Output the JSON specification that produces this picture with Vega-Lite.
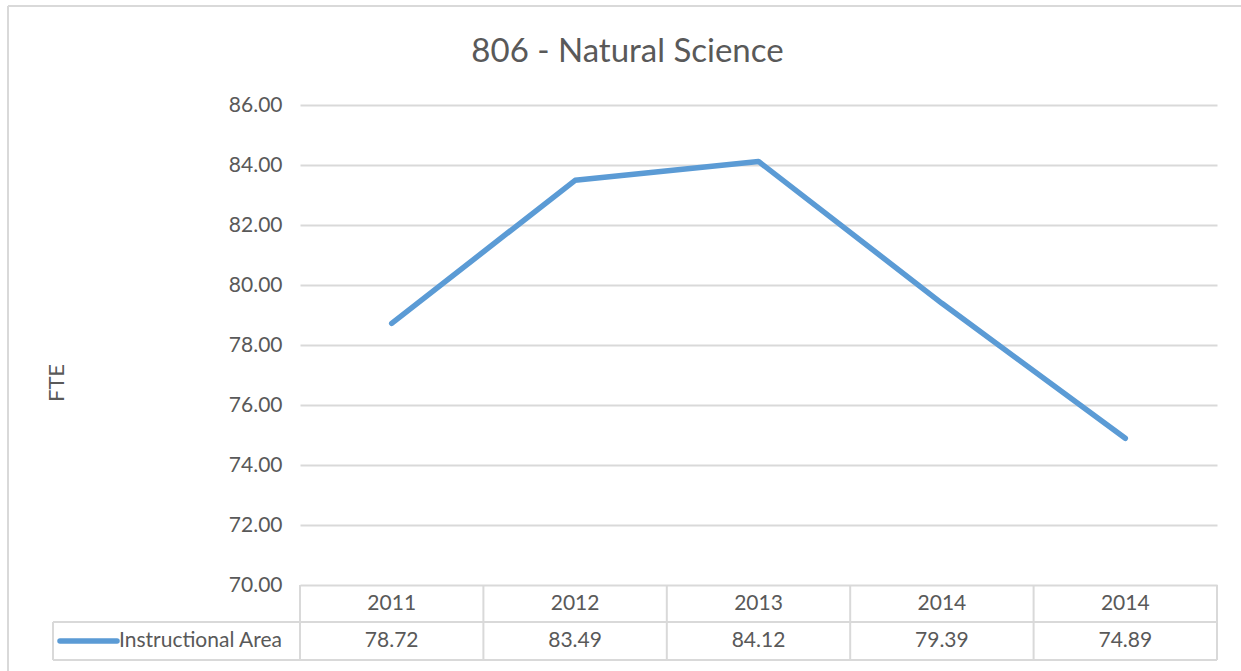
{
  "$schema": "https://vega.github.io/schema/vega-lite/v6.json",
  "autosize": {"type": "none"},
  "padding": {"left": 300, "top": 105, "right": 24, "bottom": 11},
  "width": 917,
  "height": 555,
  "background": "white",
  "config": {"view": {"stroke": null}, "font": "Lato", "axisX": {"disable": true}},
  "title": {"text": "806 - Natural Science", "fontSize": 33, "fontWeight": "normal", "color": "#595959", "font": "Lato", "anchor": "middle", "dx": -131, "offset": -64},
  "data": {"values": [
    {"col": 0, "year": "2011", "series": "Instructional Area", "fte": 78.72},
    {"col": 1, "year": "2012", "series": "Instructional Area", "fte": 83.49},
    {"col": 2, "year": "2013", "series": "Instructional Area", "fte": 84.12},
    {"col": 3, "year": "2014", "series": "Instructional Area", "fte": 79.39},
    {"col": 4, "year": "2014", "series": "Instructional Area", "fte": 74.89}
  ]},
  "layer": [
    {
      "mark": {"type": "line", "color": "#5B9BD5", "strokeWidth": 5.5, "strokeCap": "round", "strokeJoin": "round"},
      "encoding": {
        "x": {"field": "col", "type": "quantitative", "scale": {"domain": [-0.5, 4.5], "nice": false, "zero": false}, "axis": null},
        "y": {"field": "fte", "type": "quantitative", "scale": {"domain": [67.5, 86], "nice": false, "zero": false},
          "axis": {"values": [70, 72, 74, 76, 78, 80, 82, 84, 86], "format": ".2f", "grid": true, "gridColor": "#D9D9D9", "gridWidth": 2, "domain": false, "ticks": false, "labelPadding": 18, "labelFontSize": 21, "labelColor": "#595959", "labelFont": "Lato", "title": "FTE", "titleFontSize": 22, "titleFontWeight": "normal", "titleColor": "#595959", "titleFont": "Lato", "titlePadding": 160}}
      }
    },
    {
      "mark": {"type": "text", "fontSize": 21, "color": "#595959", "baseline": "middle", "align": "center"},
      "encoding": {
        "x": {"field": "col", "type": "quantitative"},
        "y": {"datum": 69.383, "type": "quantitative"},
        "text": {"field": "year"}
      }
    },
    {
      "mark": {"type": "text", "fontSize": 21, "color": "#595959", "baseline": "middle", "align": "center"},
      "encoding": {
        "x": {"field": "col", "type": "quantitative"},
        "y": {"datum": 68.133, "type": "quantitative"},
        "text": {"field": "fte", "format": ".2f"}
      }
    },
    {
      "data": {"values": [{"series": "Instructional Area"}]},
      "layer": [
        {"mark": {"type": "rule", "color": "#D9D9D9", "strokeWidth": 2}, "encoding": {"x": {"datum": -0.5, "type": "quantitative"}, "y": {"datum": 70, "type": "quantitative"}, "y2": {"datum": 67.5}}},
        {"mark": {"type": "rule", "color": "#D9D9D9", "strokeWidth": 2}, "encoding": {"x": {"datum": 0.5, "type": "quantitative"}, "y": {"datum": 70, "type": "quantitative"}, "y2": {"datum": 67.5}}},
        {"mark": {"type": "rule", "color": "#D9D9D9", "strokeWidth": 2}, "encoding": {"x": {"datum": 1.5, "type": "quantitative"}, "y": {"datum": 70, "type": "quantitative"}, "y2": {"datum": 67.5}}},
        {"mark": {"type": "rule", "color": "#D9D9D9", "strokeWidth": 2}, "encoding": {"x": {"datum": 2.5, "type": "quantitative"}, "y": {"datum": 70, "type": "quantitative"}, "y2": {"datum": 67.5}}},
        {"mark": {"type": "rule", "color": "#D9D9D9", "strokeWidth": 2}, "encoding": {"x": {"datum": 3.5, "type": "quantitative"}, "y": {"datum": 70, "type": "quantitative"}, "y2": {"datum": 67.5}}},
        {"mark": {"type": "rule", "color": "#D9D9D9", "strokeWidth": 2}, "encoding": {"x": {"datum": 4.5, "type": "quantitative"}, "y": {"datum": 70, "type": "quantitative"}, "y2": {"datum": 67.5}}},
        {"mark": {"type": "rule", "color": "#D9D9D9", "strokeWidth": 2}, "encoding": {"x": {"datum": -1.8468, "type": "quantitative"}, "y": {"datum": 68.767, "type": "quantitative"}, "y2": {"datum": 67.5}}},
        {"mark": {"type": "rule", "color": "#D9D9D9", "strokeWidth": 2}, "encoding": {"x": {"datum": -1.8468, "type": "quantitative"}, "x2": {"datum": 4.5}, "y": {"datum": 68.767, "type": "quantitative"}}},
        {"mark": {"type": "rule", "color": "#D9D9D9", "strokeWidth": 2}, "encoding": {"x": {"datum": -1.8468, "type": "quantitative"}, "x2": {"datum": 4.5}, "y": {"datum": 67.5, "type": "quantitative"}}},
        {"mark": {"type": "rule", "color": "#D9D9D9", "strokeWidth": 2}, "encoding": {"x": {"datum": -2.0922, "type": "quantitative"}, "x2": {"datum": 4.8}, "y": {"datum": 89.3, "type": "quantitative"}}},
        {"mark": {"type": "rule", "color": "#D9D9D9", "strokeWidth": 2}, "encoding": {"x": {"datum": -2.0922, "type": "quantitative"}, "y": {"datum": 89.3, "type": "quantitative"}, "y2": {"datum": 66.9}}},
        {"mark": {"type": "rule", "color": "#5B9BD5", "strokeWidth": 5.5, "strokeCap": "round"}, "encoding": {"x": {"datum": -1.8086, "type": "quantitative"}, "x2": {"datum": -1.4978}, "y": {"datum": 68.133, "type": "quantitative"}}},
        {"mark": {"type": "text", "fontSize": 21, "color": "#595959", "baseline": "middle", "align": "left"}, "encoding": {"x": {"datum": -1.487, "type": "quantitative"}, "y": {"datum": 68.133, "type": "quantitative"}, "text": {"field": "series"}}}
      ]
    }
  ]
}
